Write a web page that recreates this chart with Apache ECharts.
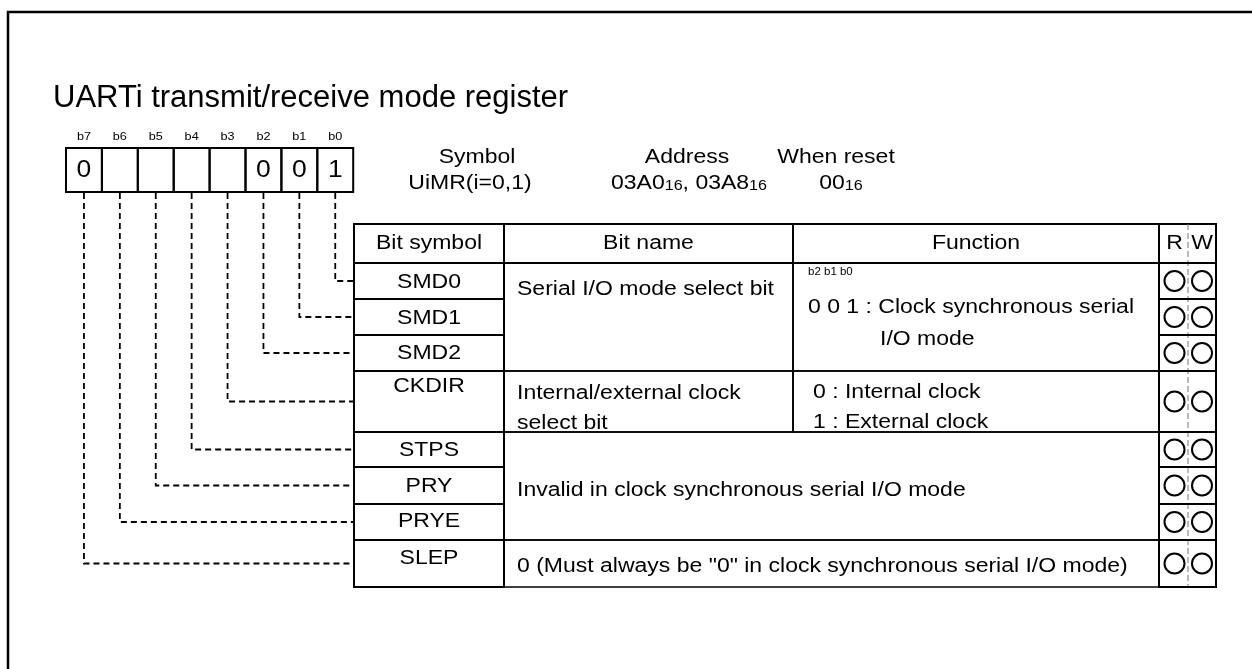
<!DOCTYPE html>
<html><head><meta charset="utf-8">
<script src="https://cdn.jsdelivr.net/npm/echarts@6/dist/echarts.min.js"></script>
<style>html,body{margin:0;padding:0;background:#fff}#c{width:1252px;height:669px}</style>
</head><body><div id="c"></div>
<script>
// ---------------- data ----------------
const titleText = 'UARTi transmit/receive mode register';
const bitLabels = ['b7', 'b6', 'b5', 'b4', 'b3', 'b2', 'b1', 'b0'];
const bitValues = ['0', '', '', '', '', '0', '0', '1'];
const infoLabels = ['Symbol', 'Address', 'When reset'];
const infoValues = ['UiMR(i=0,1)', '03A0{s|16}, 03A8{s|16}', '00{s|16}'];
const headers = ['Bit symbol', 'Bit name', 'Function', 'R', 'W'];
const bitSymbols = ['SMD0', 'SMD1', 'SMD2', 'CKDIR', 'STPS', 'PRY', 'PRYE', 'SLEP']; // b0 .. b7
const bitNames = [
  'Serial I/O mode select bit',
  'Internal/external clock\nselect bit',
  'Invalid in clock synchronous serial I/O mode',
  '0 (Must always be "0" in clock synchronous serial I/O mode)'
];
const nameRowSpans = [[0, 2], [3, 3], [4, 6], [7, 7]];
const functionLines = [
  ['b2 b1 b0', '0 0 1 : Clock synchronous serial', 'I/O mode'],
  ['0 : Internal clock', '1 : External clock'],
  null,
  null
];
const readable = [true, true, true, true, true, true, true, true];
const writable = [true, true, true, true, true, true, true, true];

// ---------------- layout ----------------
const W = 1252, H = 669;
const FONT = '"Liberation Sans", Arial, Helvetica, sans-serif';
const SX = 1.15;           // horizontal stretch of the lettering
const BOX = { x: 66, y: 148, cw: 35.9, h: 44, labelY: 137 };
const COLS = [354, 504, 793, 1159, 1188, 1216];
const ROWS = [224, 263, 299, 335, 371, 432, 467, 504, 540, 587];
const HEADER_Y = 243;
const SYM_Y = [282, 318, 353, 386, 450, 486, 521, 558];
const NAME_X = 517;
const NAME_Y = [[289], [393, 423], [490], [566]];
const FUNC_POS = [
  [[808, 272, 10], [808, 307, 20], [880, 339, 20]],
  [[813, 392, 20], [813, 422, 20]],
  null, null
];
const INFO_LABEL_X = [477, 687, 836], INFO_LABEL_Y = 157;
const INFO_VALUE_X = [470, 689, 841], INFO_VALUE_Y = 183;
const LINE = { stroke: '#000', lineWidth: 2, fill: 'none' };

function txt(p, text, size, align, extra) {
  return {
    type: 'text', x: p[0], y: p[1], scaleX: SX,
    style: Object.assign({
      text: text, x: 0, y: 0, fill: '#000', fontSize: size, fontFamily: FONT,
      align: align, verticalAlign: 'middle'
    }, extra || {})
  };
}
function rect(api, x0, y0, x1, y1, style) {
  const a = api.coord([x0, y0]), b = api.coord([x1, y1]);
  return { type: 'rect', shape: { x: a[0], y: a[1], width: b[0] - a[0], height: b[1] - a[1] }, style: Object.assign({}, LINE, style || {}) };
}

const base = { type: 'custom', coordinateSystem: 'cartesian2d', silent: true, animation: false };

const series = [
  // register bit box
  Object.assign({}, base, {
    data: bitValues.map((v, i) => [i, 0]),
    renderItem: function (params, api) {
      const i = api.value(0);
      const x0 = BOX.x + i * BOX.cw, x1 = x0 + BOX.cw;
      const a = api.coord([x0, BOX.y]), b = api.coord([x1, BOX.y + BOX.h]);
      const cx = (a[0] + b[0]) / 2;
      return { type: 'group', children: [
        rect(api, x0, BOX.y, x1, BOX.y + BOX.h),
        txt([cx, (a[1] + b[1]) / 2 + 1], bitValues[i], 23, 'center'),
        txt([cx, api.coord([0, BOX.labelY])[1]], bitLabels[i], 11, 'center')
      ] };
    }
  }),
  // dashed connectors bit -> row
  Object.assign({}, base, {
    data: bitSymbols.map((s, k) => [k, 0]),
    renderItem: function (params, api) {
      const k = api.value(0);
      const cell = 7 - k;
      const cx = BOX.x + (cell + 0.5) * BOX.cw;
      const my = (ROWS[k + 1] + ROWS[k + 2]) / 2;
      const pts = [[cx, BOX.y + BOX.h + 1], [cx, my], [COLS[0], my]].map(p => api.coord(p));
      return { type: 'polyline', shape: { points: pts }, style: { stroke: '#000', lineWidth: 1.8, lineDash: [6, 4], fill: 'none' } };
    }
  }),
  // header row
  Object.assign({}, base, {
    data: headers.map((h, j) => [j, 0]),
    renderItem: function (params, api) {
      const j = api.value(0);
      const ch = [];
      if (j < 3) ch.push(rect(api, COLS[j], ROWS[0], COLS[j + 1], ROWS[1]));
      if (j === 3) ch.push(rect(api, COLS[3], ROWS[0], COLS[5], ROWS[1]));
      if (j === 4) {
        const a = api.coord([COLS[4], ROWS[0]]), b = api.coord([COLS[4], ROWS[ROWS.length - 1]]);
        ch.push({ type: 'line', shape: { x1: a[0], y1: a[1], x2: b[0], y2: b[1] }, style: { stroke: '#777', lineWidth: 1, lineDash: [6, 3] } });
      }
      const cx = (COLS[j] + COLS[j + 1]) / 2 + (j === 3 ? 1 : 0);
      ch.push(txt(api.coord([cx, HEADER_Y]), headers[j], 20, 'center'));
      return { type: 'group', children: ch };
    }
  }),
  // bit symbol cells and R/W cells
  Object.assign({}, base, {
    data: bitSymbols.map((s, k) => [k, 0]),
    renderItem: function (params, api) {
      const k = api.value(0);
      const y0 = ROWS[k + 1], y1 = ROWS[k + 2];
      const my = api.coord([0, (y0 + y1) / 2])[1];
      const ch = [
        rect(api, COLS[0], y0, COLS[1], y1),
        rect(api, COLS[3], y0, COLS[5], y1),
        txt(api.coord([(COLS[0] + COLS[1]) / 2, SYM_Y[k]]), bitSymbols[k], 20, 'center')
      ];
      const rx = api.coord([(COLS[3] + COLS[4]) / 2 + 1, 0])[0];
      const wx = api.coord([(COLS[4] + COLS[5]) / 2, 0])[0];
      if (readable[k]) ch.push({ type: 'circle', shape: { cx: rx, cy: my, r: 10 }, style: { stroke: '#000', lineWidth: 2, fill: 'none' } });
      if (writable[k]) ch.push({ type: 'circle', shape: { cx: wx, cy: my, r: 10 }, style: { stroke: '#000', lineWidth: 2, fill: 'none' } });
      return { type: 'group', children: ch };
    }
  }),
  // bit name / function cells
  Object.assign({}, base, {
    data: bitNames.map((n, g) => [g, 0]),
    renderItem: function (params, api) {
      const g = api.value(0);
      const sp = nameRowSpans[g];
      const y0 = ROWS[sp[0] + 1], y1 = ROWS[sp[1] + 2];
      const ch = [];
      if (functionLines[g]) {
        ch.push(rect(api, COLS[1], y0, COLS[2], y1, { lineWidth: 1.6 }));
        ch.push(rect(api, COLS[2], y0, COLS[3], y1, { lineWidth: 1.6 }));
        functionLines[g].forEach((line, li) => {
          const p = FUNC_POS[g][li];
          ch.push(txt(api.coord([p[0], p[1]]), line, p[2], 'left'));
        });
      } else {
        ch.push(rect(api, COLS[1], y0, COLS[3], y1, { lineWidth: 1.6 }));
      }
      bitNames[g].split('\n').forEach((line, li) => {
        ch.push(txt(api.coord([NAME_X, NAME_Y[g][li]]), line, 20, 'left'));
      });
      return { type: 'group', children: ch };
    }
  }),
  // symbol / address / reset value
  Object.assign({}, base, {
    data: infoLabels.map((l, j) => [j, 0]),
    renderItem: function (params, api) {
      const j = api.value(0);
      return { type: 'group', children: [
        txt(api.coord([INFO_LABEL_X[j], INFO_LABEL_Y]), infoLabels[j], 20, 'center'),
        txt(api.coord([INFO_VALUE_X[j], INFO_VALUE_Y]), infoValues[j], 20, 'center', {
          rich: { s: { fontSize: 14, fontFamily: FONT, fill: '#000', verticalAlign: 'bottom' } }
        })
      ] };
    }
  })
];

const chart = echarts.init(document.getElementById('c'), null, { renderer: 'canvas', width: W, height: H });
chart.setOption({
  backgroundColor: '#fff',
  animation: false,
  title: {
    text: titleText, left: 53, top: 83, padding: 0,
    textStyle: { fontSize: 31, fontWeight: 'normal', color: '#000', fontFamily: FONT }
  },
  grid: { left: 0, top: 0, right: 0, bottom: 0 },
  xAxis: { type: 'value', min: 0, max: W, show: false },
  yAxis: { type: 'value', min: 0, max: H, inverse: true, show: false },
  graphic: [{
    type: 'rect', silent: true,
    shape: { x: 8, y: 12, width: 1400, height: 800 },
    style: { fill: 'none', stroke: '#000', lineWidth: 2.5 }
  }],
  series: series
});
</script>
</body></html>
